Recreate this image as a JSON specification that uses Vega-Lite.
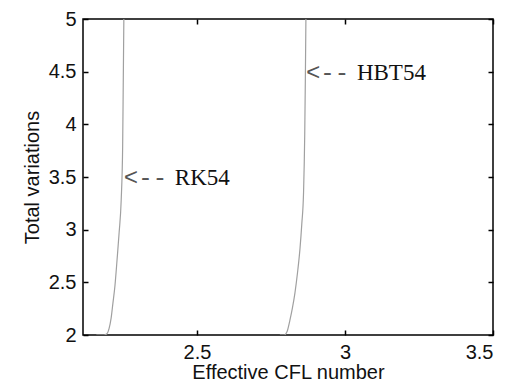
{
  "$schema": "https://vega.github.io/schema/vega-lite/v6.json",
  "width": 410,
  "height": 316,
  "autosize": "none",
  "padding": {"left": 83, "top": 19, "right": 16, "bottom": 52},
  "background": "white",
  "config": {
    "view": {"stroke": "black", "strokeWidth": 1.5},
    "axis": {
      "domainColor": "black", "domainWidth": 1.5, "tickColor": "black", "tickWidth": 1.5,
      "grid": false, "labelFont": "Liberation Sans", "labelFontSize": 20, "labelColor": "#111",
      "titleFont": "Liberation Sans", "titleFontSize": 20, "titleFontWeight": "normal", "titleColor": "#111"
    }
  },
  "datasets": {
    "curves": [
      {"cfl": 2.160, "tv": 2.0, "method": "RK54"},
      {"cfl": 2.186, "tv": 2.0, "method": "RK54"},
      {"cfl": 2.196, "tv": 2.012, "method": "RK54"},
      {"cfl": 2.203, "tv": 2.06, "method": "RK54"},
      {"cfl": 2.210, "tv": 2.16, "method": "RK54"},
      {"cfl": 2.216, "tv": 2.3, "method": "RK54"},
      {"cfl": 2.223, "tv": 2.47, "method": "RK54"},
      {"cfl": 2.230, "tv": 2.712, "method": "RK54"},
      {"cfl": 2.237, "tv": 2.97, "method": "RK54"},
      {"cfl": 2.244, "tv": 3.28, "method": "RK54"},
      {"cfl": 2.249, "tv": 3.8, "method": "RK54"},
      {"cfl": 2.251, "tv": 4.4, "method": "RK54"},
      {"cfl": 2.253, "tv": 5.0, "method": "RK54"},
      {"cfl": 2.780, "tv": 2.0, "method": "HBT54"},
      {"cfl": 2.795, "tv": 2.0, "method": "HBT54"},
      {"cfl": 2.804, "tv": 2.03, "method": "HBT54"},
      {"cfl": 2.814, "tv": 2.142, "method": "HBT54"},
      {"cfl": 2.822, "tv": 2.25, "method": "HBT54"},
      {"cfl": 2.831, "tv": 2.4, "method": "HBT54"},
      {"cfl": 2.840, "tv": 2.6, "method": "HBT54"},
      {"cfl": 2.848, "tv": 2.82, "method": "HBT54"},
      {"cfl": 2.854, "tv": 3.05, "method": "HBT54"},
      {"cfl": 2.860, "tv": 3.35, "method": "HBT54"},
      {"cfl": 2.864, "tv": 3.9, "method": "HBT54"},
      {"cfl": 2.866, "tv": 4.4, "method": "HBT54"},
      {"cfl": 2.868, "tv": 5.0, "method": "HBT54"}
    ],
    "labels": [
      {"cfl": 2.253, "tv": 3.5, "method": "RK54"},
      {"cfl": 2.868, "tv": 4.5, "method": "HBT54"}
    ]
  },
  "resolve": {"axis": {"x": "independent", "y": "independent"}},
  "layer": [
    {
      "data": {"name": "curves"},
      "mark": {"type": "line", "color": "#a0a0a0", "strokeWidth": 1.2, "clip": true, "interpolate": "monotone"},
      "encoding": {
        "x": {"field": "cfl", "type": "quantitative", "scale": {"domain": [2.115, 3.5], "nice": false, "zero": false},
          "axis": {"title": "Effective CFL number", "values": [2.5, 3, 3.5], "format": "~g", "tickSize": -5, "labelPadding": 12, "titlePadding": 0, "domain": false}},
        "y": {"field": "tv", "type": "quantitative", "scale": {"domain": [2, 5], "nice": false, "zero": false},
          "axis": {"title": "Total variations", "values": [2, 2.5, 3, 3.5, 4, 4.5, 5], "format": "~g", "tickSize": -5, "labelPadding": 12, "titlePadding": 6, "domain": false}},
        "detail": {"field": "method", "type": "nominal"}
      }
    },
    {
      "data": {"name": "labels"},
      "mark": {"type": "text", "align": "left", "baseline": "middle", "font": "Liberation Mono", "fontSize": 24, "color": "#555", "dy": 1},
      "encoding": {
        "x": {"field": "cfl", "type": "quantitative",
          "axis": {"orient": "top", "title": null, "labels": false, "values": [2.5, 3, 3.5], "tickSize": -5, "domain": false}},
        "y": {"field": "tv", "type": "quantitative",
          "axis": {"orient": "right", "title": null, "labels": false, "values": [2, 2.5, 3, 3.5, 4, 4.5, 5], "tickSize": -5, "domain": false}},
        "text": {"value": "<--"}
      }
    },
    {
      "data": {"name": "labels"},
      "mark": {"type": "text", "align": "left", "baseline": "middle", "font": "Liberation Serif", "fontSize": 23, "color": "#111", "dx": 51, "dy": 1},
      "encoding": {
        "x": {"field": "cfl", "type": "quantitative", "axis": null},
        "y": {"field": "tv", "type": "quantitative", "axis": null},
        "text": {"field": "method", "type": "nominal"}
      }
    }
  ]
}
